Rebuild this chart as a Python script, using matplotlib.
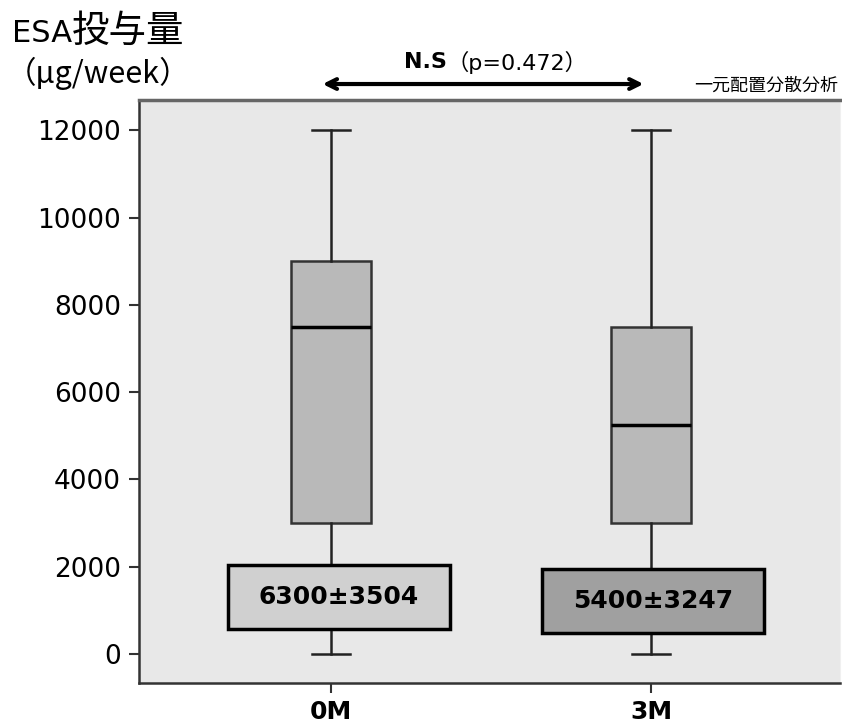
import numpy as np
import matplotlib.pyplot as plt
from matplotlib.patches import Rectangle

plt.rcParams['font.family'] = ['DejaVu Sans', 'Noto Sans CJK JP']

# データ (箱ひげ図の要約統計量)
groups = ['0M', '3M']
whislo = [0, 0]
q1 = [3000, 3000]
med = [7500, 5250]
q3 = [9000, 7500]
whishi = [12000, 12000]

# 平均±SD
means = [6300, 5400]
sds = [3504, 3247]
mean_colors = ['#d0d0d0', '#a0a0a0']

fig = plt.figure(figsize=(8.42, 7.25), dpi=100)
ax = fig.add_axes([139 / 842, 1 - 683 / 725, 701 / 842, 583 / 725])
ax.set_facecolor('#e8e8e8')

stats = []
for i in range(len(groups)):
    stats.append({'label': groups[i], 'whislo': whislo[i], 'q1': q1[i],
                  'med': med[i], 'q3': q3[i], 'whishi': whishi[i]})

pos = np.arange(1, len(groups) + 1)
ax.bxp(stats, positions=pos, widths=0.25, showfliers=False, patch_artist=True,
       boxprops=dict(facecolor='#b9b9b9', edgecolor='#333333', linewidth=1.8),
       medianprops=dict(color='black', linewidth=2.5),
       whiskerprops=dict(color='#222222', linewidth=1.8),
       capprops=dict(color='#222222', linewidth=1.8), capwidths=0.12)

# 平均±SD ボックス
offsets = [0.025, 0.006]
ybase = [573, 481]
for i in range(len(groups)):
    xc = pos[i] + offsets[i]
    r = Rectangle((xc - 0.347, ybase[i]), 0.694, 1466, facecolor=mean_colors[i],
                  edgecolor='black', linewidth=2.5, zorder=5)
    ax.add_patch(r)
    ax.text(xc, ybase[i] + 733, f'{means[i]}±{sds[i]}', ha='center', va='center',
            fontsize=18, fontweight='bold', zorder=6)

ax.set_xlim(0.4, 2.59)
ax.set_ylim(-664, 12692)
ax.set_yticks(np.arange(0, 12001, 2000))
ax.set_xticks(pos)
ax.set_xticklabels(groups, fontsize=18, fontweight='bold')
ax.tick_params(axis='y', labelsize=19, length=7, width=1.5, color='#333333', pad=6)
ax.tick_params(axis='x', length=7, width=1.5, color='#333333', pad=5)

for s in ['left', 'bottom']:
    ax.spines[s].set_color('#333333')
    ax.spines[s].set_linewidth(1.8)
ax.spines['top'].set_color('#666666')
ax.spines['top'].set_linewidth(2.5)
ax.spines['right'].set_color('#f0f0f0')

# 有意差の矢印
ax.annotate('', xy=(0.965, 13058), xytext=(1.985, 13058),
            arrowprops=dict(arrowstyle='<->,head_length=0.7,head_width=0.35',
                            color='black', linewidth=3),
            annotation_clip=False)
fig.text(447 / 842, 1 - 62 / 725, 'N.S', ha='right', va='center',
         fontsize=16, fontweight='bold')
fig.text(447 / 842, 1 - 62 / 725, '（p=0.472）', ha='left', va='center', fontsize=16)
fig.text(838 / 842, 1 - 86 / 725, '一元配置分散分析', ha='right', va='center', fontsize=13)

fig.text(12 / 842, 1 - 33 / 725, 'ESA', ha='left', va='center', fontsize=22)
fig.text(72 / 842, 1 - 32 / 725, '投与量', ha='left', va='center', fontsize=27)
fig.text(6 / 842, 1 - 73 / 725, '（μg/week）', ha='left', va='center', fontsize=22,
         family=['Noto Sans CJK JP', 'DejaVu Sans'])

plt.savefig('out.png', dpi=100)
